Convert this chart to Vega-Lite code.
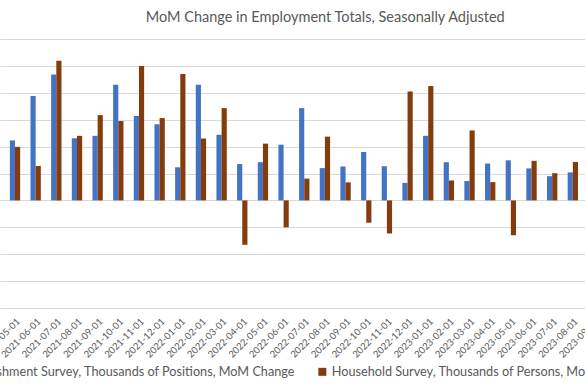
{
  "$schema": "https://vega.github.io/schema/vega-lite/v6.json",
  "autosize": {"type": "none"},
  "padding": {"top": 39, "left": 0, "right": 0, "bottom": 82},
  "width": 608.5,
  "height": 269,
  "background": "white",
  "config": {
    "font": "Lato",
    "view": {"stroke": null}
  },
  "title": {
    "text": "MoM Change in Employment Totals, Seasonally Adjusted",
    "font": "Lato",
    "fontSize": 14.5,
    "fontWeight": "normal",
    "color": "#595959",
    "anchor": "middle",
    "dx": 21,
    "offset": 14
  },
  "data": {
    "values": [
      {"date": "2021-05-01", "series": "Establishment Survey, Thousands of Positions, MoM Change", "value": 446},
      {"date": "2021-05-01", "series": "Household Survey, Thousands of Persons, MoM Change", "value": 398},
      {"date": "2021-06-01", "series": "Establishment Survey, Thousands of Positions, MoM Change", "value": 776},
      {"date": "2021-06-01", "series": "Household Survey, Thousands of Persons, MoM Change", "value": 256},
      {"date": "2021-07-01", "series": "Establishment Survey, Thousands of Positions, MoM Change", "value": 936},
      {"date": "2021-07-01", "series": "Household Survey, Thousands of Persons, MoM Change", "value": 1038},
      {"date": "2021-08-01", "series": "Establishment Survey, Thousands of Positions, MoM Change", "value": 462},
      {"date": "2021-08-01", "series": "Household Survey, Thousands of Persons, MoM Change", "value": 480},
      {"date": "2021-09-01", "series": "Establishment Survey, Thousands of Positions, MoM Change", "value": 480},
      {"date": "2021-09-01", "series": "Household Survey, Thousands of Persons, MoM Change", "value": 634},
      {"date": "2021-10-01", "series": "Establishment Survey, Thousands of Positions, MoM Change", "value": 860},
      {"date": "2021-10-01", "series": "Household Survey, Thousands of Persons, MoM Change", "value": 590},
      {"date": "2021-11-01", "series": "Establishment Survey, Thousands of Positions, MoM Change", "value": 628},
      {"date": "2021-11-01", "series": "Household Survey, Thousands of Persons, MoM Change", "value": 1000},
      {"date": "2021-12-01", "series": "Establishment Survey, Thousands of Positions, MoM Change", "value": 566},
      {"date": "2021-12-01", "series": "Household Survey, Thousands of Persons, MoM Change", "value": 612},
      {"date": "2022-01-01", "series": "Establishment Survey, Thousands of Positions, MoM Change", "value": 246},
      {"date": "2022-01-01", "series": "Household Survey, Thousands of Persons, MoM Change", "value": 940},
      {"date": "2022-02-01", "series": "Establishment Survey, Thousands of Positions, MoM Change", "value": 860},
      {"date": "2022-02-01", "series": "Household Survey, Thousands of Persons, MoM Change", "value": 460},
      {"date": "2022-03-01", "series": "Establishment Survey, Thousands of Positions, MoM Change", "value": 488},
      {"date": "2022-03-01", "series": "Household Survey, Thousands of Persons, MoM Change", "value": 686},
      {"date": "2022-04-01", "series": "Establishment Survey, Thousands of Positions, MoM Change", "value": 270},
      {"date": "2022-04-01", "series": "Household Survey, Thousands of Persons, MoM Change", "value": -330},
      {"date": "2022-05-01", "series": "Establishment Survey, Thousands of Positions, MoM Change", "value": 284},
      {"date": "2022-05-01", "series": "Household Survey, Thousands of Persons, MoM Change", "value": 422},
      {"date": "2022-06-01", "series": "Establishment Survey, Thousands of Positions, MoM Change", "value": 414},
      {"date": "2022-06-01", "series": "Household Survey, Thousands of Persons, MoM Change", "value": -200},
      {"date": "2022-07-01", "series": "Establishment Survey, Thousands of Positions, MoM Change", "value": 686},
      {"date": "2022-07-01", "series": "Household Survey, Thousands of Persons, MoM Change", "value": 162},
      {"date": "2022-08-01", "series": "Establishment Survey, Thousands of Positions, MoM Change", "value": 240},
      {"date": "2022-08-01", "series": "Household Survey, Thousands of Persons, MoM Change", "value": 474},
      {"date": "2022-09-01", "series": "Establishment Survey, Thousands of Positions, MoM Change", "value": 252},
      {"date": "2022-09-01", "series": "Household Survey, Thousands of Persons, MoM Change", "value": 134},
      {"date": "2022-10-01", "series": "Establishment Survey, Thousands of Positions, MoM Change", "value": 360},
      {"date": "2022-10-01", "series": "Household Survey, Thousands of Persons, MoM Change", "value": -166},
      {"date": "2022-11-01", "series": "Establishment Survey, Thousands of Positions, MoM Change", "value": 254},
      {"date": "2022-11-01", "series": "Household Survey, Thousands of Persons, MoM Change", "value": -246},
      {"date": "2022-12-01", "series": "Establishment Survey, Thousands of Positions, MoM Change", "value": 130},
      {"date": "2022-12-01", "series": "Household Survey, Thousands of Persons, MoM Change", "value": 810},
      {"date": "2023-01-01", "series": "Establishment Survey, Thousands of Positions, MoM Change", "value": 480},
      {"date": "2023-01-01", "series": "Household Survey, Thousands of Persons, MoM Change", "value": 850},
      {"date": "2023-02-01", "series": "Establishment Survey, Thousands of Positions, MoM Change", "value": 284},
      {"date": "2023-02-01", "series": "Household Survey, Thousands of Persons, MoM Change", "value": 148},
      {"date": "2023-03-01", "series": "Establishment Survey, Thousands of Positions, MoM Change", "value": 144},
      {"date": "2023-03-01", "series": "Household Survey, Thousands of Persons, MoM Change", "value": 520},
      {"date": "2023-04-01", "series": "Establishment Survey, Thousands of Positions, MoM Change", "value": 274},
      {"date": "2023-04-01", "series": "Household Survey, Thousands of Persons, MoM Change", "value": 136},
      {"date": "2023-05-01", "series": "Establishment Survey, Thousands of Positions, MoM Change", "value": 298},
      {"date": "2023-05-01", "series": "Household Survey, Thousands of Persons, MoM Change", "value": -260},
      {"date": "2023-06-01", "series": "Establishment Survey, Thousands of Positions, MoM Change", "value": 238},
      {"date": "2023-06-01", "series": "Household Survey, Thousands of Persons, MoM Change", "value": 294},
      {"date": "2023-07-01", "series": "Establishment Survey, Thousands of Positions, MoM Change", "value": 180},
      {"date": "2023-07-01", "series": "Household Survey, Thousands of Persons, MoM Change", "value": 202},
      {"date": "2023-08-01", "series": "Establishment Survey, Thousands of Positions, MoM Change", "value": 208},
      {"date": "2023-08-01", "series": "Household Survey, Thousands of Persons, MoM Change", "value": 286}
    ]
  },
  "mark": {"type": "bar"},
  "encoding": {
    "x": {
      "field": "date",
      "type": "ordinal",
      "scale": {
        "domain": ["2021-05-01","2021-06-01","2021-07-01","2021-08-01","2021-09-01","2021-10-01","2021-11-01","2021-12-01","2022-01-01","2022-02-01","2022-03-01","2022-04-01","2022-05-01","2022-06-01","2022-07-01","2022-08-01","2022-09-01","2022-10-01","2022-11-01","2022-12-01","2023-01-01","2023-02-01","2023-03-01","2023-04-01","2023-05-01","2023-06-01","2023-07-01","2023-08-01","2023-09-01"],
        "paddingInner": 0.5,
        "paddingOuter": 0.476
      },
      "axis": {
        "title": null,
        "labelAngle": -45,
        "labelFontSize": 9.5,
        "labelColor": "#595959",
        "labelPadding": 8,
        "ticks": false,
        "domain": false,
        "grid": false,
        "labelOverlap": false
      }
    },
    "xOffset": {
      "field": "series",
      "type": "nominal",
      "sort": ["Establishment Survey, Thousands of Positions, MoM Change", "Household Survey, Thousands of Persons, MoM Change"],
      "scale": {"paddingInner": 0, "paddingOuter": 0}
    },
    "y": {
      "field": "value",
      "type": "quantitative",
      "scale": {"domain": [-800, 1200], "nice": false},
      "axis": {
        "title": null,
        "labels": false,
        "ticks": false,
        "domain": false,
        "values": [-800, -600, -400, -200, 0, 200, 400, 600, 800, 1000, 1200],
        "gridColor": "#D9D9D9",
        "gridWidth": 1
      }
    },
    "color": {
      "field": "series",
      "type": "nominal",
      "sort": ["Establishment Survey, Thousands of Positions, MoM Change", "Household Survey, Thousands of Persons, MoM Change"],
      "scale": {"range": ["#4472C4", "#843C0C"]},
      "legend": {
        "title": null,
        "orient": "none",
        "direction": "horizontal",
        "legendX": -56,
        "legendY": 326,
        "symbolType": "square",
        "symbolSize": 64,
        "symbolStrokeWidth": 0,
        "labelFontSize": 12.7,
        "labelColor": "#595959",
        "labelOffset": 3,
        "columnPadding": 20,
        "labelLimit": 500
      }
    }
  }
}
